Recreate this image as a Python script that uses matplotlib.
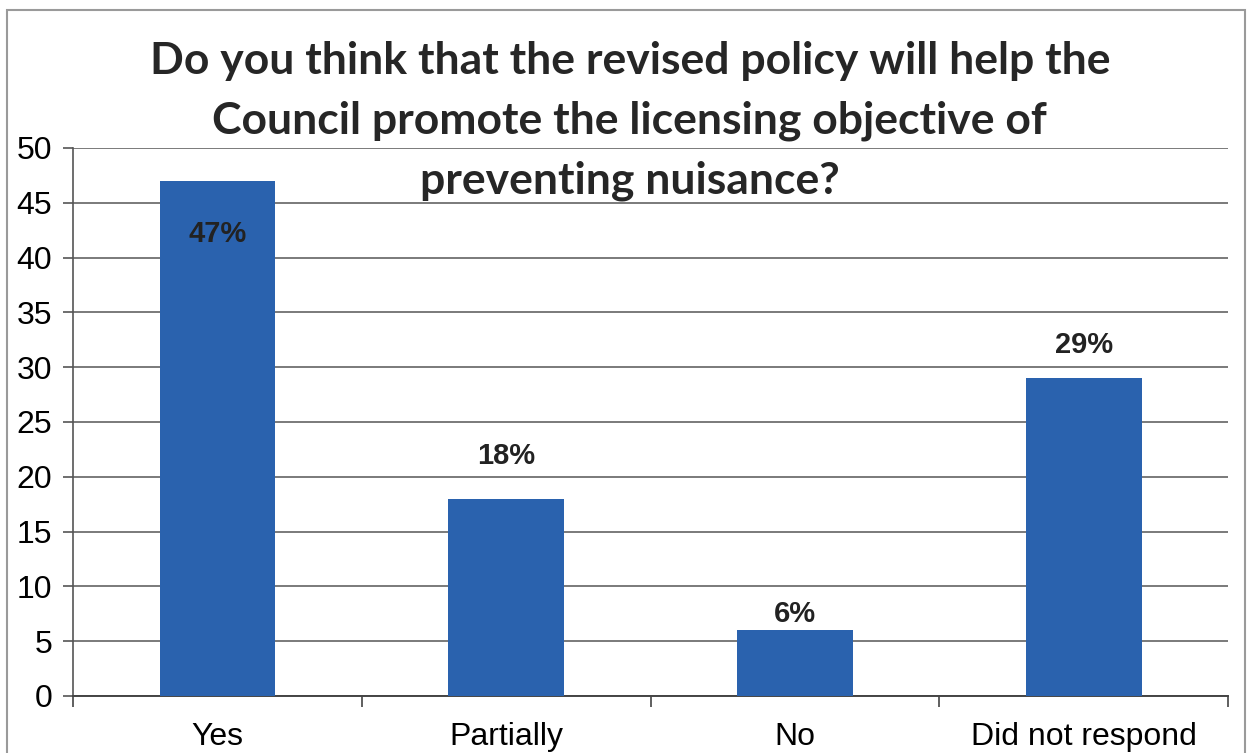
import matplotlib.pyplot as plt
from matplotlib.patches import Rectangle
from matplotlib.ticker import FixedLocator

categories = ["Yes", "Partially", "No", "Did not respond"]
responses = [47, 18, 6, 29]
labels = ["47%", "18%", "6%", "29%"]
yticks = list(range(0, 55, 5))

title = ("Do you think that the revised policy will help the\n"
         "Council promote the licensing objective of\n"
         "preventing nuisance?")

bar_color = "#2a62ae"
# vertical offset (points) of each value label from its bar top
label_offsets = [-38, 31, 12, 24]

fig = plt.figure(figsize=(12.52, 7.53), dpi=100)
ax = fig.add_axes([0.0583, 0.0757, 0.9227, 0.7278])

x = list(range(len(categories)))
bars = ax.bar(x, responses, width=0.4, color=bar_color, zorder=3)

ax.set_xlim(-0.5, len(categories) - 0.5)
ax.set_ylim(0, 50)
ax.set_yticks(yticks)
ax.set_yticklabels([str(t) for t in yticks], fontsize=23, family="Liberation Sans")
ax.set_xticks(x)
ax.set_xticklabels(categories, fontsize=23, family="Liberation Sans")
ax.tick_params(axis="x", which="major", length=0, pad=19)
ax.xaxis.set_minor_locator(FixedLocator([-0.5, 0.5, 1.5, 2.5, 3.5]))
ax.tick_params(axis="x", which="minor", length=8, width=1.2, color="#444444")
ax.tick_params(axis="y", length=7, width=1.2, color="#555555", pad=8)

ax.grid(axis="y", color="#7a7a7a", linewidth=1.4, zorder=0)
for side in ("top", "right"):
    ax.spines[side].set_visible(False)
ax.spines["left"].set_color("#555555")
ax.spines["bottom"].set_color("#444444")
ax.spines["left"].set_linewidth(1.2)
ax.spines["bottom"].set_linewidth(1.4)

for b, v, lab, off in zip(bars, responses, labels, label_offsets):
    ax.annotate(lab, (b.get_x() + b.get_width() / 2, v), xytext=(0, off),
                textcoords="offset points", ha="center", va="center",
                fontsize=21, fontweight="bold", family="Liberation Sans",
                color="#222222", zorder=4)

fig.text(0.503, 1 - 121 / 753, title, ha="center", va="center",
         fontsize=32, fontweight="bold", family="Lato", color="#262626",
         linespacing=1.58)

# thin frame around the whole chart
fig.patches.append(Rectangle((7 / 1252, -0.01), 1238 / 1252, 1 - 10 / 753 + 0.01,
                             transform=fig.transFigure, fill=False,
                             edgecolor="#9a9a9a", linewidth=1.5))

fig.savefig("out.png", dpi=100)
